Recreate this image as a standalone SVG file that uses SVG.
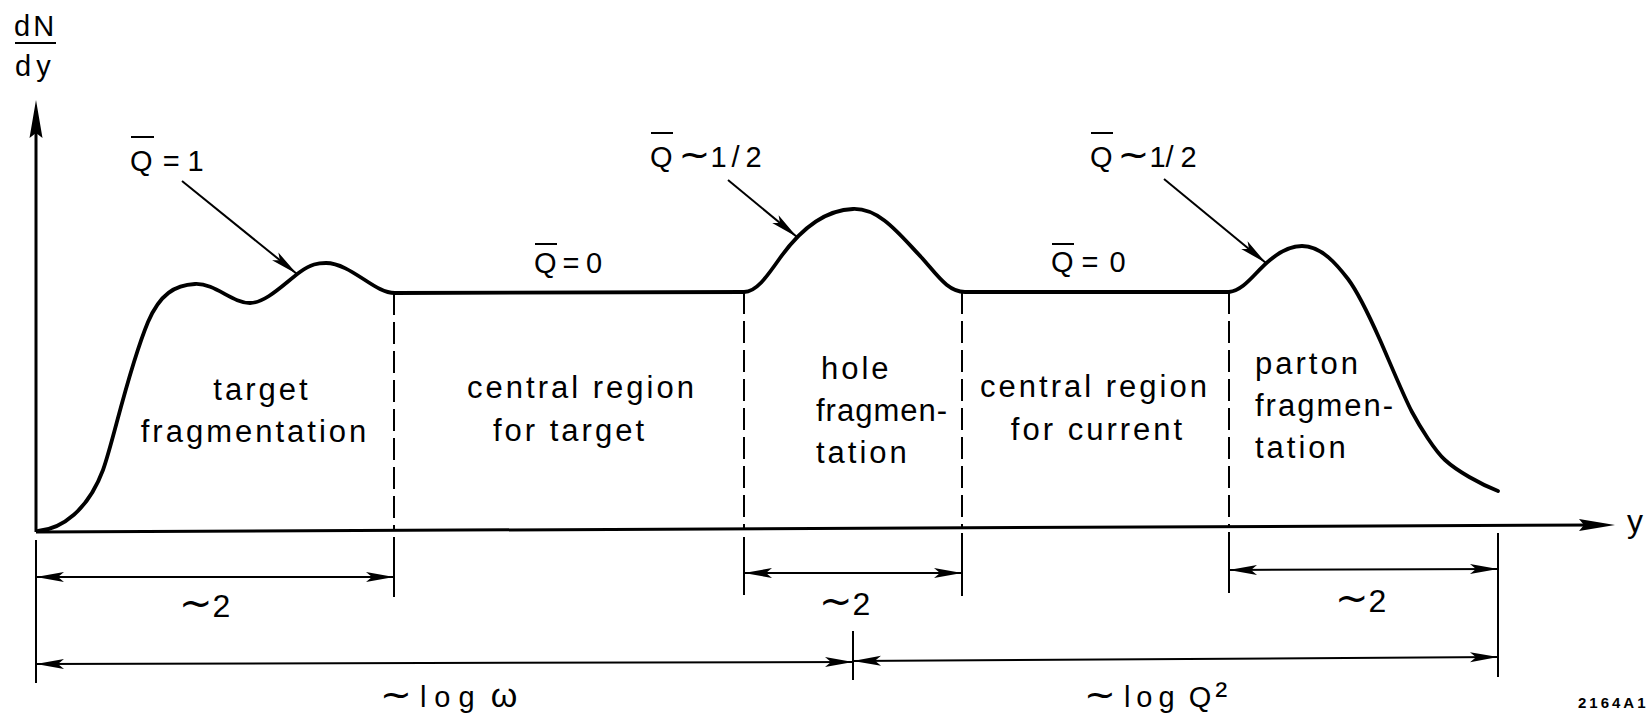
<svg xmlns="http://www.w3.org/2000/svg" width="1651" height="717" viewBox="0 0 1651 717">
<defs>
<marker id="ah" viewBox="0 0 28 11" refX="28" refY="5.5" markerWidth="28" markerHeight="11" markerUnits="userSpaceOnUse" orient="auto-start-reverse">
<path d="M0,0.5 L28,5.5 L0,10.5 L6,5.5 Z" fill="#000"/>
</marker>
</defs>
<style>
.txt{font-family:"Liberation Sans",Arial,sans-serif;fill:#000}
.reg{font-size:31px;letter-spacing:3px}
.q{font-size:29px}
.d2{font-size:32px}
.tl{font-family:"DejaVu Sans",sans-serif;font-size:38px}
.tl2{font-family:"DejaVu Sans",sans-serif;font-size:40px}
.curve{fill:none;stroke:#000;stroke-width:3.8;stroke-linejoin:round;stroke-linecap:round}
.axis{stroke:#000;stroke-width:3;fill:none}
.dash{stroke:#000;stroke-width:2;stroke-dasharray:22 7;fill:none}
.tick{stroke:#000;stroke-width:2;fill:none}
.dim{stroke:#000;stroke-width:2;fill:none;marker-start:url(#ah);marker-end:url(#ah)}
.lead{stroke:#000;stroke-width:2;fill:none;marker-end:url(#ah)}
.bar{stroke:#000;stroke-width:2}
</style>
<rect width="1651" height="717" fill="#fff"/>

<g id="axes">
<line class="axis" x1="36" y1="532" x2="36" y2="125"/>
<polygon points="36,100 29.5,138 36,133 42.5,138" fill="#000"/>
<line class="axis" x1="36" y1="532" x2="1595" y2="525"/>
<polygon points="1615,525 1579,519 1584,525 1579,531" fill="#000"/>
<text class="txt" font-size="29"><tspan x="14" y="36" letter-spacing="3">dN</tspan><tspan x="15" y="76" letter-spacing="5">dy</tspan></text>
<line class="bar" x1="15" y1="43" x2="56" y2="43"/>
<text class="txt" font-size="32" x="1627" y="532">y</text>
</g>

<g id="curve">
<path class="curve" d="M38,531 C62,529 88,510 103,470 C113,443 128,370 148,322 C160,294 175,285 195,284 C215,283 232,303 250,303 C266,303 285,283 300,272 C311,264 318,263 326,263 C345,263 365,282 380,289 C385,291.5 389,293 395,293 L744,292 C756,292 766,278 780,258 C800,230 825,210 853,209 C880,208 900,235 922,258 C938,276 948,292 965,292 L1229,292 C1245,290 1255,272 1270,260 C1282,250 1292,246 1302,246 C1322,246 1338,266 1348,279 C1357,291 1372,322 1380,340 C1388,358 1404,397 1412,412 C1420,427 1435,451 1445,460 C1457,471 1480,484 1498,491"/>
</g>

<g id="connectors">
<line class="dash" x1="394" y1="293" x2="394" y2="531"/>
<line class="dash" x1="744" y1="292" x2="744" y2="529"/>
<line class="dash" x1="962" y1="292" x2="962" y2="527"/>
<line class="dash" x1="1229" y1="292" x2="1229" y2="526"/>
<line class="tick" x1="36" y1="540" x2="36" y2="683"/>
<line class="tick" x1="394" y1="537" x2="394" y2="597"/>
<line class="tick" x1="744" y1="537" x2="744" y2="595"/>
<line class="tick" x1="962" y1="533" x2="962" y2="596"/>
<line class="tick" x1="1229" y1="532" x2="1229" y2="593"/>
<line class="tick" x1="853" y1="631" x2="853" y2="680"/>
<line class="tick" x1="1498" y1="533" x2="1498" y2="677"/>
<line class="dim" x1="36" y1="577" x2="394" y2="577"/>
<line class="dim" x1="744" y1="573" x2="962" y2="573"/>
<line class="dim" x1="1229" y1="570" x2="1498" y2="569"/>
<line class="dim" x1="36" y1="664" x2="853" y2="662"/>
<line class="dim" x1="853" y1="661" x2="1498" y2="657"/>
<line class="lead" x1="182" y1="181" x2="297" y2="274"/>
<line class="lead" x1="728" y1="180" x2="797" y2="237"/>
<line class="lead" x1="1164" y1="179" x2="1266" y2="263"/>
</g>

<g id="label-q1">
<text class="txt q" x="130" y="171">Q <tspan dx="2">=</tspan> 1</text>
<line class="bar" x1="131" y1="137" x2="154" y2="137"/>
</g>
<g id="label-q0-target">
<text class="txt q" x="534" y="273">Q<tspan dx="6">=</tspan><tspan dx="6.5">0</tspan></text>
<line class="bar" x1="535" y1="244" x2="557" y2="244"/>
</g>
<g id="label-qhalf-hole">
<text class="txt q" x="650" y="167">Q<tspan class="tl" dx="6">~</tspan>1<tspan dx="5">/</tspan><tspan dx="6">2</tspan></text>
<line class="bar" x1="651" y1="133" x2="673" y2="133"/>
</g>
<g id="label-q0-current">
<text class="txt q" x="1051" y="272">Q = <tspan dx="3">0</tspan></text>
<line class="bar" x1="1052" y1="244" x2="1074" y2="244"/>
</g>
<g id="label-qhalf-parton">
<text class="txt q" x="1090" y="167">Q<tspan class="tl" dx="5">~</tspan>1/<tspan dx="7">2</tspan></text>
<line class="bar" x1="1091" y1="133" x2="1113" y2="133"/>
</g>

<g id="region-target">
<text class="txt reg" text-anchor="middle"><tspan x="262" y="400">target</tspan><tspan x="255" y="442">fragmentation</tspan></text>
</g>
<g id="region-central-target">
<text class="txt reg" text-anchor="middle"><tspan x="582" y="398">central region</tspan><tspan x="570" y="441">for target</tspan></text>
</g>
<g id="region-hole">
<text class="txt reg"><tspan x="821" y="379">hole</tspan><tspan x="816" y="421" letter-spacing="1">fragmen-</tspan><tspan x="816" y="463">tation</tspan></text>
</g>
<g id="region-central-current">
<text class="txt reg" text-anchor="middle"><tspan x="1095" y="397">central region</tspan><tspan x="1098" y="440">for current</tspan></text>
</g>
<g id="region-parton">
<text class="txt reg"><tspan x="1255" y="374">parton</tspan><tspan x="1255" y="416" letter-spacing="2">fragmen-</tspan><tspan x="1255" y="458">tation</tspan></text>
</g>

<g id="dim-labels">
<text class="txt d2" x="179" y="617"><tspan class="tl2">~</tspan>2</text>
<text class="txt d2" x="819" y="615"><tspan class="tl2">~</tspan>2</text>
<text class="txt d2" x="1335" y="612"><tspan class="tl2">~</tspan>2</text>
<text class="txt q" x="380" y="707"><tspan class="tl">~</tspan> <tspan letter-spacing="8">log</tspan> <tspan font-size="34">ω</tspan></text>
<text class="txt q" x="1084" y="707"><tspan class="tl">~</tspan> <tspan letter-spacing="6">log</tspan> Q<tspan dx="4" font-size="36">²</tspan></text>
</g>

<g id="figure-id">
<text class="txt" font-size="15" font-weight="bold" letter-spacing="3" x="1578" y="708">2164A1</text>
</g>
</svg>
